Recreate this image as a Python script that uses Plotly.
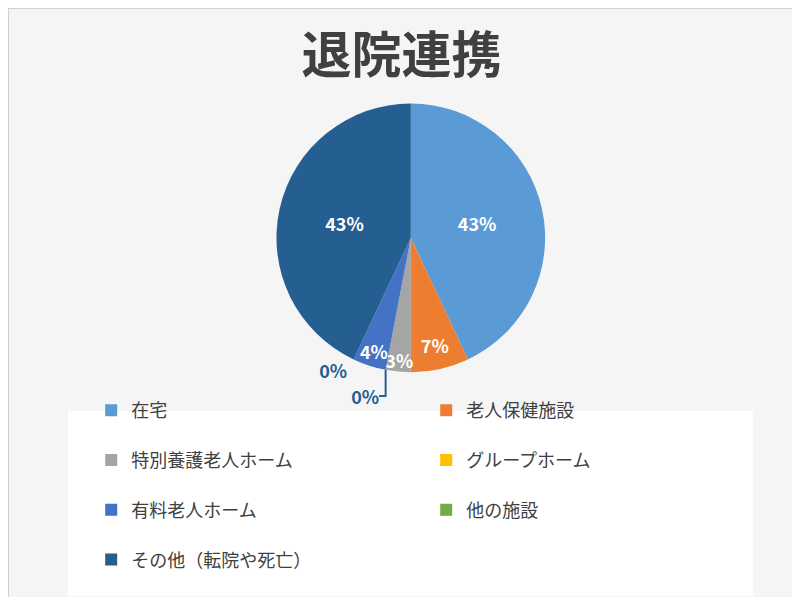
import plotly.graph_objs as go

TITLE = '退院連携'

labels = ['在宅', '老人保健施設', '特別養護老人ホーム', 'グループホーム',
          '有料老人ホーム', '他の施設', 'その他（転院や死亡）']
shares = [43, 7, 3, 0, 4, 0, 43]
colors = ['#5B9BD5', '#ED7D31', '#A5A5A5', '#FFC000',
          '#4472C4', '#70AD47', '#255E91']

FONT = 'Noto Sans CJK JP'

# a blank second line makes the legend rows taller, like the original
legend_labels = [lab + '<br> ' for lab in labels]
# empty slices cannot hold their label inside
text_pos = ['inside' if v > 0 else 'outside' for v in shares]

traces = [
    go.Pie(
        labels=legend_labels,
        values=shares,
        sort=False,
        direction='clockwise',
        rotation=0,
        texttemplate='<b>%{value}%</b>',
        textposition=text_pos,
        insidetextorientation='horizontal',
        hovertemplate='%{value}%<extra></extra>',
        insidetextfont=dict(
            family=FONT,
            size=18,
            color='white',
        ),
        outsidetextfont=dict(
            family=FONT,
            size=18,
            color='#255E91',
        ),
        marker=dict(
            colors=colors,
            line=dict(
                width=0,
            ),
        ),
        domain=dict(
            x=[0.316, 0.691],
            y=[0.39, 0.84],
        ),
    ),
]

fig = go.Figure(
    data=traces,
    layout=go.Layout(
        width=800,
        height=597,
        margin=dict(l=0, r=0, t=0, b=0),
        paper_bgcolor='#f5f5f5',
        plot_bgcolor='#f5f5f5',
        uniformtext=dict(minsize=18, mode='show'),
        font=dict(
            family=FONT,
            color='#404040',
        ),
        title=dict(
            text='<b>' + TITLE + '</b>',
            x=0.492,
            xanchor='center',
            y=0.92,
            yanchor='middle',
            font=dict(
                family=FONT,
                size=50,
                color='#404040',
            ),
        ),
        legend=dict(
            orientation='h',
            x=0.104,
            xanchor='left',
            y=0.005,
            yanchor='bottom',
            bgcolor='rgba(0,0,0,0)',
            entrywidth=290,
            entrywidthmode='pixels',
            valign='top',
            font=dict(
                family=FONT,
                size=18,
                color='#404040',
            ),
            traceorder='normal',
        ),
        shapes=[
            dict(
                type='rect',
                xref='paper',
                yref='paper',
                x0=0.075,
                x1=0.931,
                y0=0.015,
                y1=0.325,
                layer='below',
                fillcolor='white',
                line=dict(width=0),
            ),
            dict(
                type='rect',
                xref='paper',
                yref='paper',
                x0=0,
                x1=1,
                y0=0,
                y1=1,
                line=dict(color='#d0d0d0', width=2),
            ),
        ],
    ),
)

fig.write_html('out.html')
